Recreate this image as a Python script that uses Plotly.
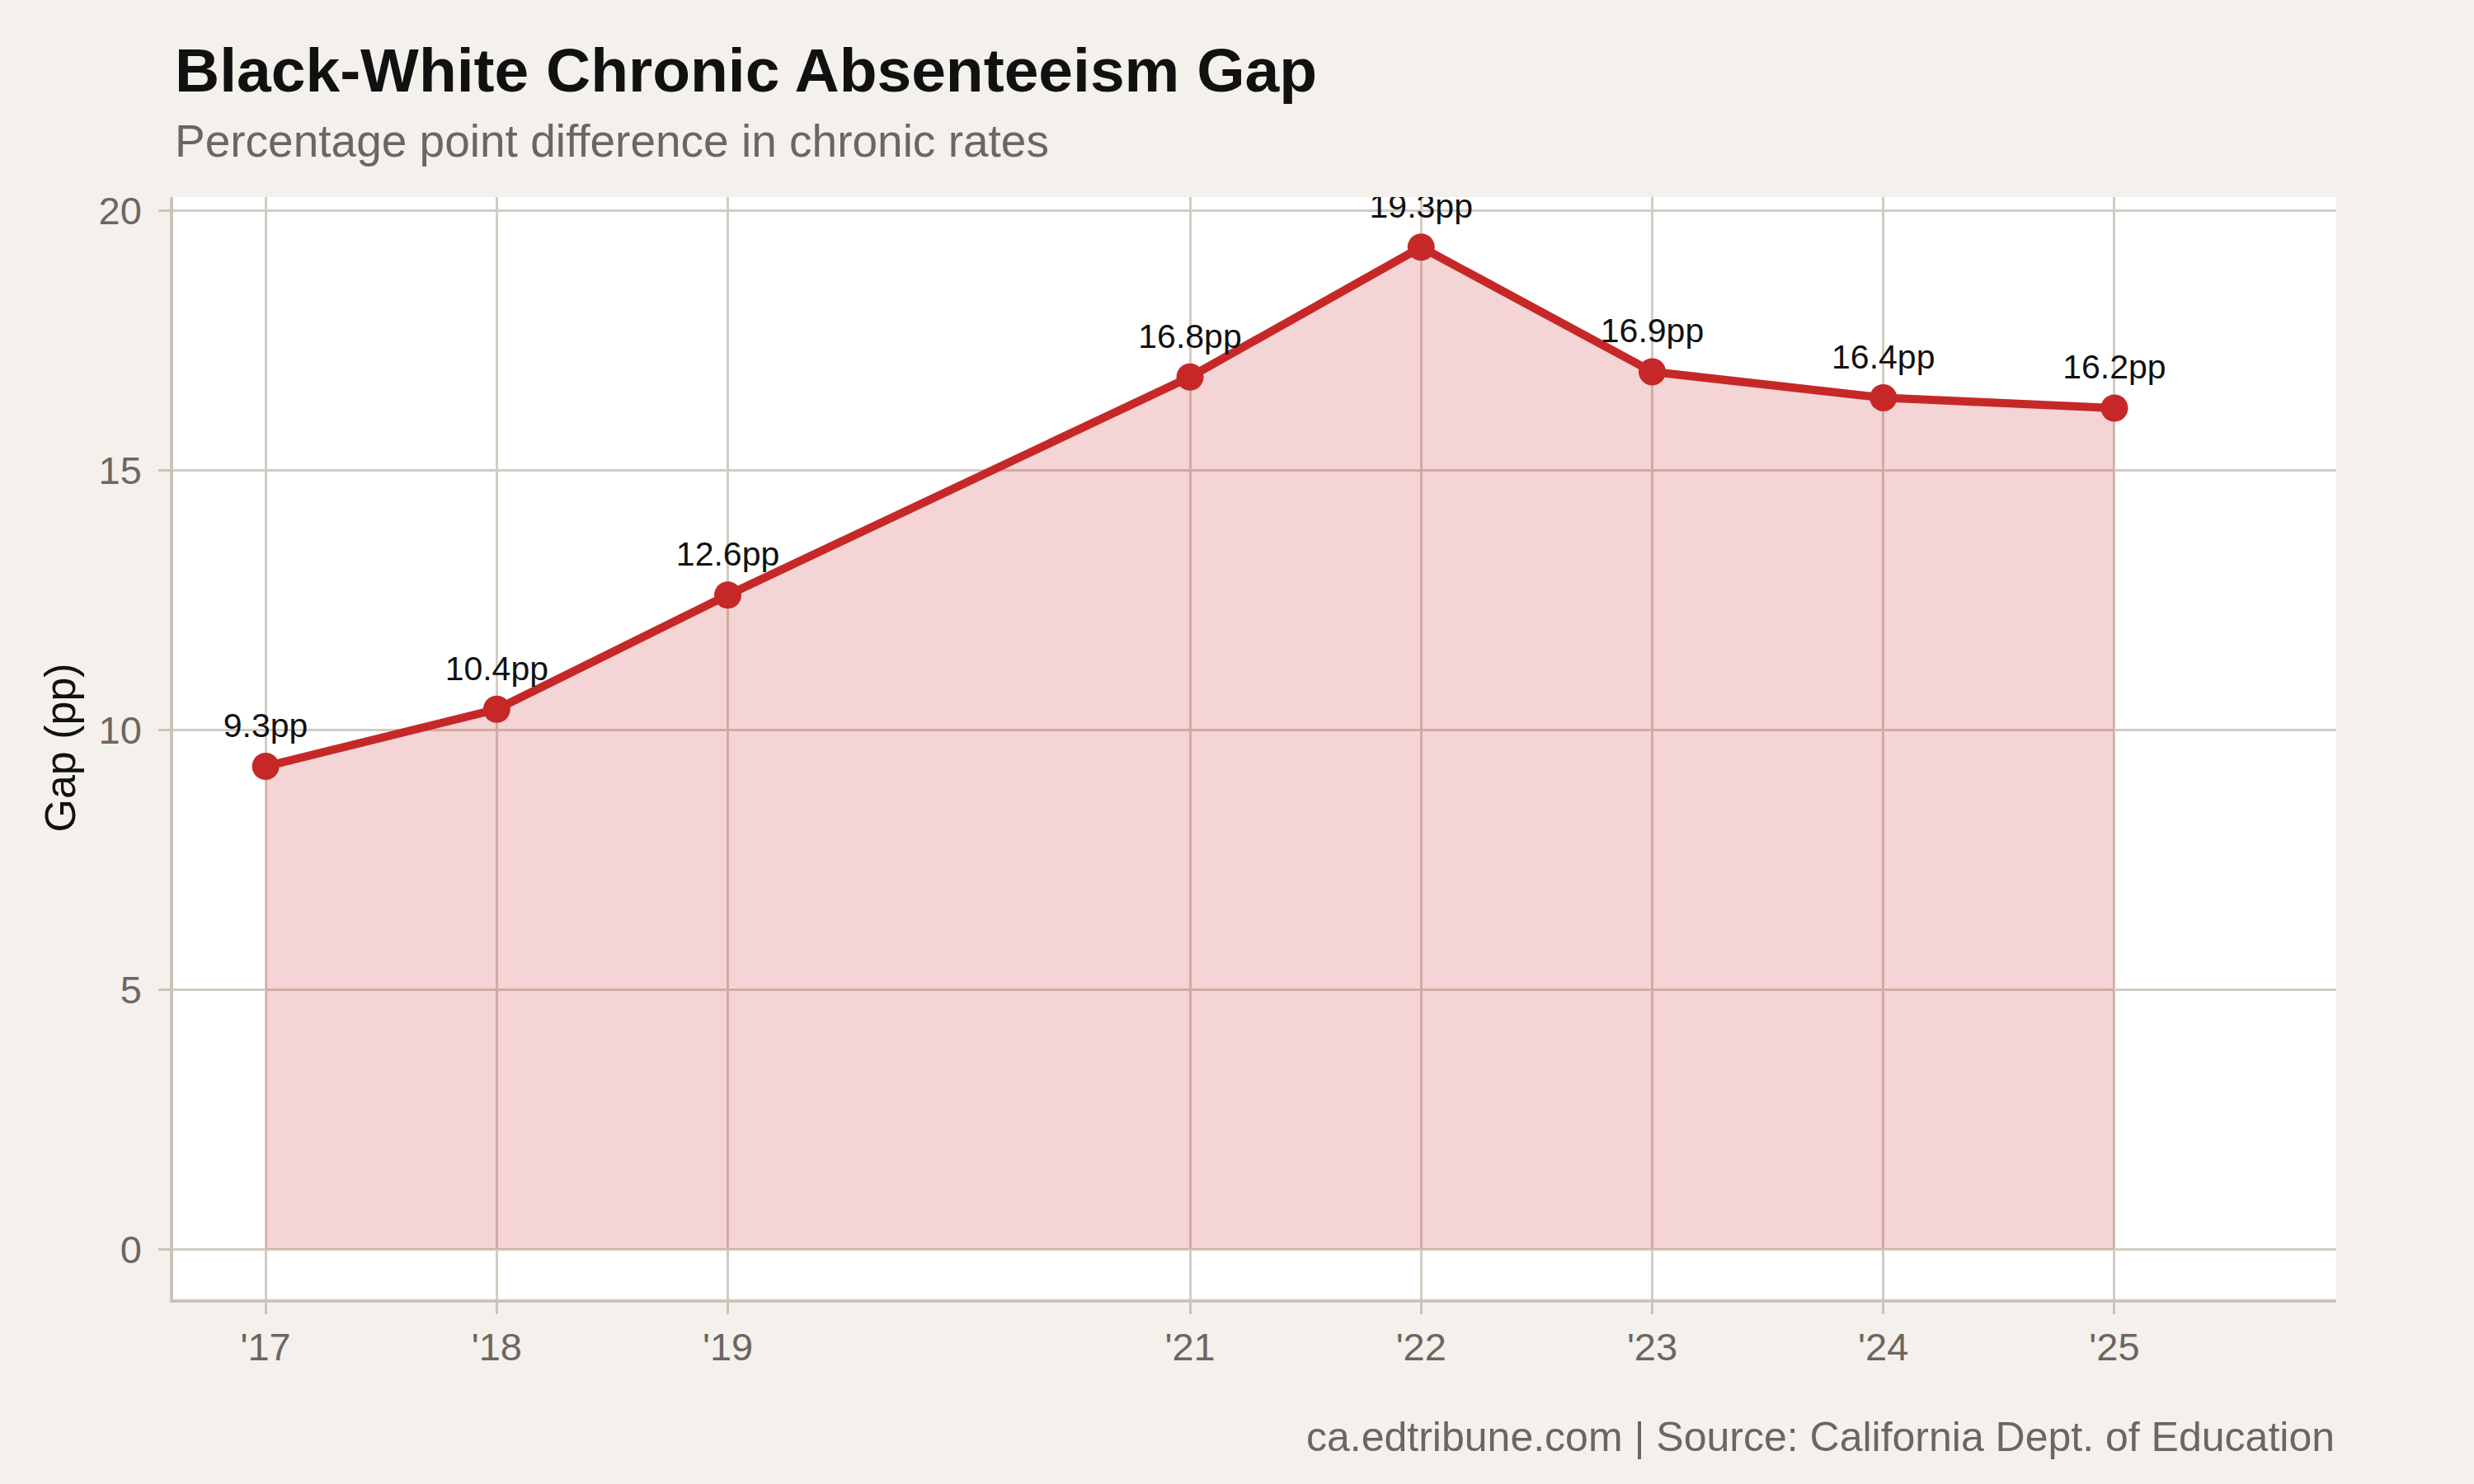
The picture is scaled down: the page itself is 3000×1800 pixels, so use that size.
import plotly.graph_objects as go

# ---- data ----
years = [2017, 2018, 2019, 2021, 2022, 2023, 2024, 2025]
gap_pp = [9.3, 10.4, 12.6, 16.8, 19.3, 16.9, 16.4, 16.2]
x_tick_labels = ["'17", "'18", "'19", "'21", "'22", "'23", "'24", "'25"]
y_ticks = [0, 5, 10, 15, 20]
point_labels = [f"{v}pp" for v in gap_pp]

title_text = "Black-White Chronic Absenteeism Gap"
subtitle_text = "Percentage point difference in chronic rates"
y_title = "Gap (pp)"
footer_text = "ca.edtribune.com | Source: California Dept. of Education"

# ---- style ----
RED = "#c62828"
FILL = "rgba(198,40,40,0.2)"
PAPER = "#f4f1ec"
GRID = "#d2ccc2"
AXIS = "#cbc4b9"
GRAY = "#6b6661"
FONT = "Liberation Sans, Arial, Helvetica, sans-serif"

fig = go.Figure()
fig.add_trace(go.Scatter(
    x=years, y=gap_pp,
    mode="lines+markers",
    fill="tozeroy", fillcolor=FILL,
    line=dict(color=RED, width=10),
    marker=dict(color=RED, size=33),
    hoverinfo="skip", showlegend=False,
))
# value labels (invisible larger marker only sets the label offset)
fig.add_trace(go.Scatter(
    x=years, y=gap_pp,
    mode="markers+text",
    marker=dict(color=RED, size=39, opacity=0),
    text=point_labels, textposition="top center",
    textfont=dict(family=FONT, size=41, color="#111111"),
    cliponaxis=True,
    hoverinfo="skip", showlegend=False,
))

fig.update_layout(
    width=3000, height=1800,
    paper_bgcolor=PAPER, plot_bgcolor="white",
    margin=dict(l=210, r=167, t=239, b=224, pad=0),
    font=dict(family=FONT, color=GRAY),
    xaxis=dict(
        range=[2016.6, 2025.96],
        tickmode="array", tickvals=years, ticktext=x_tick_labels,
        showgrid=True, gridcolor=GRID, gridwidth=2.5,
        showline=True, linecolor=AXIS, linewidth=3.5,
        ticks="outside", ticklen=14, tickwidth=3, tickcolor=AXIS,
        tickfont=dict(family=FONT, size=47, color=GRAY),
        ticklabelstandoff=0,
        zeroline=False,
    ),
    yaxis=dict(
        range=[-0.965, 20.265],
        tickmode="array", tickvals=y_ticks,
        showgrid=True, gridcolor=GRID, gridwidth=2.5,
        showline=True, linecolor=AXIS, linewidth=3.5,
        ticks="outside", ticklen=14, tickwidth=3, tickcolor=AXIS,
        tickfont=dict(family=FONT, size=47, color=GRAY),
        ticklabelstandoff=11,
        zeroline=False,
    ),
    annotations=[
        dict(text=f"<b>{title_text}</b>", xref="paper", yref="paper",
             x=0, y=1.0826, xanchor="left", yanchor="bottom", showarrow=False,
             font=dict(family=FONT, size=75, color="#111111")),
        dict(text=subtitle_text, xref="paper", yref="paper",
             x=0, y=1.0259, xanchor="left", yanchor="bottom", showarrow=False,
             font=dict(family=FONT, size=55, color=GRAY)),
        dict(text=footer_text, xref="paper", yref="paper",
             x=1, y=-0.1473, xanchor="right", yanchor="bottom", showarrow=False,
             font=dict(family=FONT, size=50, color=GRAY)),
        dict(text=y_title, xref="paper", yref="paper",
             x=-0.0526, y=0.5, xanchor="center", yanchor="middle", showarrow=False,
             textangle=-90,
             font=dict(family=FONT, size=52, color="#111111")),
    ],
)

fig.write_html("out.html")
